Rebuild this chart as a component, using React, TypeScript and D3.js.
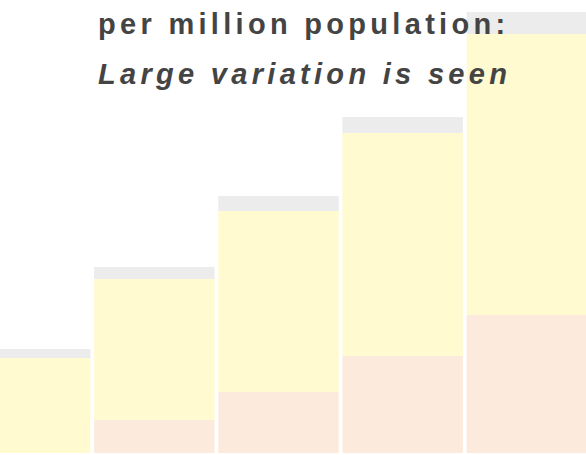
import React, { useEffect, useRef } from 'react';
import * as d3 from 'd3';

// bar groups (left one is cut off by the frame)
const groups = ['g1', 'g2', 'g3', 'g4', 'g5'];
const baseValues = [0, 33, 61, 97, 138];
const midValues = [95, 141, 181, 223, 281];
const topValues = [9, 12, 15, 16, 22];
const seriesKeys = ['base', 'mid', 'top'];
const seriesColors = ['#fcebdc', '#fffacf', '#ececec'];
const titleLines = ['per million population:', 'Large variation is seen'];

const App = () => {
  const ref = useRef<SVGSVGElement>(null);

  useEffect(() => {
    const svg = d3.select(ref.current);
    svg.selectAll('*').remove();

    const width = 586;
    const height = 455;
    const baseline = 453;

    const rows = groups.map((g, i) => ({
      group: g,
      base: baseValues[i],
      mid: midValues[i],
      top: topValues[i],
    }));

    const stack = d3.stack<any>().keys(seriesKeys);
    const layers = stack(rows);

    const x = d3.scaleBand()
      .domain(groups)
      .range([-30, 587])
      .paddingInner(0.03)
      .paddingOuter(0);

    const y = d3.scaleLinear()
      .domain([0, baseline])
      .range([baseline, 0]);

    const color = d3.scaleOrdinal<string>()
      .domain(seriesKeys)
      .range(seriesColors);

    svg.attr('width', width).attr('height', height);
    svg.append('rect').attr('width', width).attr('height', height).attr('fill', '#fff');

    svg.append('g')
      .selectAll('g')
      .data(layers)
      .enter().append('g')
      .attr('fill', d => color(d.key))
      .selectAll('rect')
      .data(d => d)
      .enter().append('rect')
      .attr('x', d => x(d.data.group) as number)
      .attr('y', d => y(d[1]))
      .attr('width', x.bandwidth())
      .attr('height', d => y(d[0]) - y(d[1]));

    // title sits on top of the bars
    const title = svg.append('g')
      .attr('font-family', '"Liberation Sans", Arial, sans-serif')
      .attr('font-size', 29)
      .attr('font-weight', 'bold')
      .attr('fill', '#444')
      .attr('letter-spacing', 4.3);

    title.append('text')
      .attr('x', 98)
      .attr('y', 34)
      .text(titleLines[0]);

    title.append('text')
      .attr('x', 98)
      .attr('y', 84)
      .attr('font-style', 'italic')
      .text(titleLines[1]);
  }, []);

  return (
    <svg ref={ref} style={{ position: 'absolute', left: 0, top: 0, display: 'block' }}></svg>
  );
};

export default App;
